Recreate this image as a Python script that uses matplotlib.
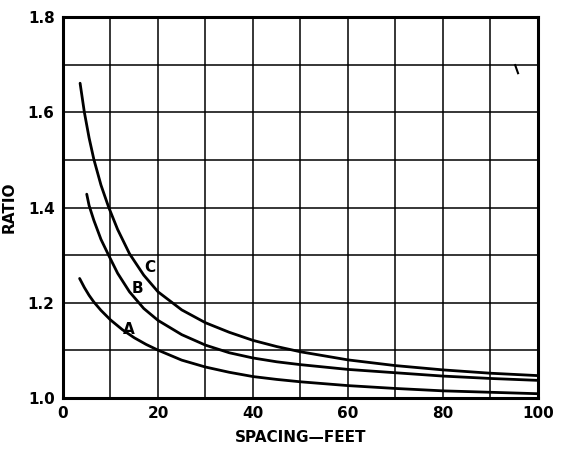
import matplotlib
matplotlib.use("Agg")
import matplotlib.pyplot as plt
import numpy as np

# Data
xC = [3.6, 4.5, 5.5, 6.5, 8, 9.6, 11.5, 14, 17, 20, 25, 30, 35, 40, 45, 50, 60, 70, 80, 90, 100]
yC = [1.661, 1.600, 1.546, 1.501, 1.447, 1.401, 1.354, 1.303, 1.258, 1.223, 1.185, 1.158, 1.138, 1.121, 1.108, 1.097, 1.080, 1.068, 1.059, 1.052, 1.047]
xB = [5.0, 5.5, 6.5, 8, 9.6, 11.5, 14, 17, 20, 25, 30, 35, 40, 45, 50, 60, 70, 80, 90, 100]
yB = [1.428, 1.404, 1.373, 1.333, 1.300, 1.262, 1.223, 1.188, 1.163, 1.133, 1.111, 1.095, 1.084, 1.076, 1.070, 1.060, 1.053, 1.046, 1.041, 1.037]
xA = [3.5, 4.5, 5.5, 6.5, 8, 10, 12.5, 15, 17.5, 20, 25, 30, 35, 40, 45, 50, 60, 70, 80, 90, 100]
yA = [1.251, 1.232, 1.2155, 1.2015, 1.184, 1.164, 1.1435, 1.1265, 1.1125, 1.1005, 1.0795, 1.065, 1.054, 1.045, 1.039, 1.034, 1.026, 1.020, 1.015, 1.012, 1.009]
labels = ["A", "B", "C"]
label_pos = [(13.8, 1.144), (15.7, 1.230), (18.3, 1.275)]
xticks = [0, 20, 40, 60, 80, 100]
yticks = [1.0, 1.2, 1.4, 1.6, 1.8]

fig = plt.figure(figsize=(5.69, 4.49), dpi=100)
ax = fig.add_axes([0.1107, 0.1136, 0.8348, 0.8485])
ax.set_xlim(0, 100)
ax.set_ylim(1.0, 1.8)

for v in np.arange(10, 100, 10):
    ax.axvline(v, color="black", lw=1.1, zorder=1)
for v in np.arange(1.1, 1.8, 0.1):
    ax.axhline(v, color="black", lw=1.1, zorder=1)

for x, y in [(xA, yA), (xB, yB), (xC, yC)]:
    ax.plot(x, y, color="black", lw=2.0, zorder=3,
            solid_capstyle="round", solid_joinstyle="round")

for lab, (px, py) in zip(labels, label_pos):
    ax.text(px, py, lab, fontsize=11, fontweight="bold", ha="center", va="center")

# small stray mark near top right
ax.plot([95.2, 95.8], [1.699, 1.682], color="black", lw=1.5)

for s in ax.spines.values():
    s.set_linewidth(2.2)

ax.set_xticks(xticks)
ax.set_xticklabels([str(t) for t in xticks], fontsize=11, fontweight="bold")
ax.set_yticks(yticks)
ax.set_yticklabels([f"{t:.1f}" for t in yticks], fontsize=11, fontweight="bold")
ax.tick_params(length=0, pad=6)
ax.set_xlabel("SPACING\u2014FEET", fontsize=11, fontweight="bold", labelpad=6)
ax.set_ylabel("RATIO", fontsize=11, fontweight="bold", labelpad=8)

fig.savefig("out.png", dpi=100)
